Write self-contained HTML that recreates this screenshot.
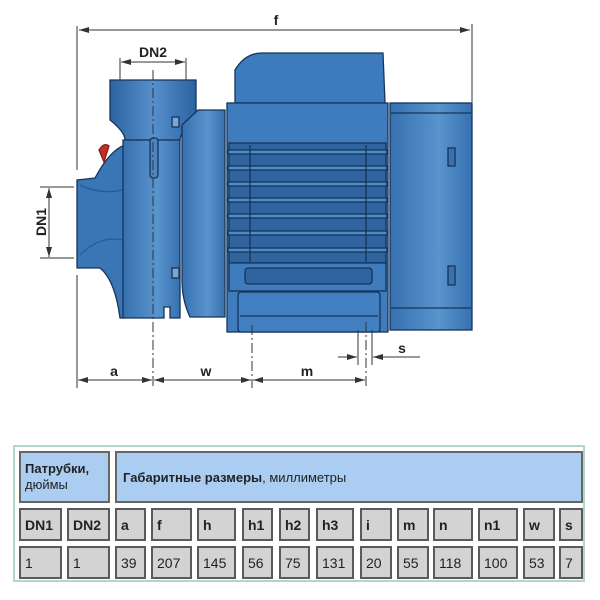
<!DOCTYPE html>
<html><head><meta charset="utf-8"><style>
body{margin:0;width:600px;height:600px;background:#fff;overflow:hidden;font-family:"Liberation Sans",Arial,sans-serif;position:relative}
svg{position:absolute;left:0;top:0}
.tbl{position:absolute;left:13px;top:445px;width:572px;height:137px;border:2px solid #b3d6cc;box-sizing:border-box;background:#fff}
.c{position:absolute;box-sizing:border-box;border:2px solid #5a5a5a;background:#d3d3d3;font-size:14px;color:#222;display:flex;align-items:center;padding-left:4px}
.h{background:#abcdf1;border-color:#666;font-size:13px}
b{font-weight:bold}
</style></head><body>
<svg width="600" height="440" viewBox="0 0 600 440">
<defs>
<marker id="ar" markerWidth="10" markerHeight="6" refX="10" refY="3" orient="auto" markerUnits="userSpaceOnUse"><path d="M0,0 L10,3 L0,6 Z" fill="#333"/></marker>
<linearGradient id="g1" x1="0" x2="1"><stop offset="0" stop-color="#2c63a2"/><stop offset="0.5" stop-color="#5690cb"/><stop offset="1" stop-color="#2c63a2"/></linearGradient>
<linearGradient id="g2" x1="0" x2="1"><stop offset="0" stop-color="#3670b0"/><stop offset="0.6" stop-color="#5a94cd"/><stop offset="1" stop-color="#3670b0"/></linearGradient>
</defs>
<g stroke="#16345a" stroke-width="1.3">
<path d="M77,180 L95,178 Q110,150 125,145 L125,318 L120,318 Q115,280 100,268 L77,268 Z" fill="#3a75b5"/>
<path d="M80,185 Q100,195 123,190 M80,255 Q100,235 123,240" fill="none" stroke="#2a5a90"/>
<path d="M110,80 L196,80 L196,120 Q180,132 180,140 L125,140 Q125,132 110,120 Z" fill="url(#g1)"/>
<path d="M123,140 L180,140 L180,318 L170,318 L170,307 L164,307 L164,318 L123,318 Z" fill="url(#g2)"/>
<rect x="150" y="138" width="8" height="40" rx="3" fill="#4a86c4"/>
<path d="M99,150 Q104,142 109,146 L104,162 Z" fill="#c0302a" stroke="#8a1d1a"/>
<path d="M182,125 L198,110 L225,110 L225,317 L190,317 Q182,300 182,280 Z" fill="url(#g2)"/>
<rect x="172" y="117" width="7" height="10" fill="#7aa6d4"/>
<rect x="172" y="268" width="7" height="10" fill="#7aa6d4"/>
<path d="M235,70 Q245,53 262,53 L383,53 L385,103 L235,103 Z" fill="#3e7bbd"/>
<rect x="227" y="103" width="161" height="229" fill="#3f7cbe"/>
<rect x="229" y="143" width="157" height="120" fill="#2f649e"/>
<g fill="#4d8ac8">
<rect x="228" y="150" width="159" height="4"/><rect x="228" y="166" width="159" height="4"/><rect x="228" y="182" width="159" height="4"/><rect x="228" y="198" width="159" height="4"/><rect x="228" y="214" width="159" height="4"/><rect x="228" y="231" width="159" height="4"/><rect x="228" y="248" width="159" height="4"/>
</g>
<line x1="250" y1="145" x2="250" y2="262"/><line x1="366" y1="145" x2="366" y2="262"/>
<rect x="229" y="263" width="157" height="28" fill="#3f7cbe"/>
<rect x="245" y="268" width="127" height="16" rx="3" fill="#2f649e"/>
<rect x="238" y="292" width="142" height="40" rx="3" fill="#4280c2"/>
<line x1="240" y1="316" x2="378" y2="316"/>
<rect x="390" y="103" width="82" height="227" fill="url(#g2)"/>
<line x1="391" y1="113" x2="471" y2="113"/><line x1="391" y1="308" x2="471" y2="308"/>
<rect x="448" y="148" width="7" height="18" fill="#3a72b0"/>
<rect x="448" y="266" width="7" height="19" fill="#3a72b0"/>
</g>
<g stroke="#333" stroke-width="1" fill="none">
<line x1="77" y1="26" x2="77" y2="170"/><line x1="77" y1="275" x2="77" y2="388"/>
<line x1="472" y1="24" x2="472" y2="102"/>
<line x1="79" y1="30" x2="470" y2="30" marker-end="url(#ar)"/><line x1="470" y1="30" x2="79" y2="30" marker-end="url(#ar)"/>
<line x1="120" y1="58" x2="120" y2="80"/><line x1="186" y1="58" x2="186" y2="80"/>
<line x1="121" y1="62" x2="185" y2="62" marker-end="url(#ar)"/><line x1="185" y1="62" x2="121" y2="62" marker-end="url(#ar)"/>
<line x1="40" y1="187" x2="74" y2="187"/><line x1="40" y1="258" x2="74" y2="258"/>
<line x1="49" y1="188" x2="49" y2="257" marker-end="url(#ar)"/><line x1="49" y1="257" x2="49" y2="188" marker-end="url(#ar)"/>
<line x1="153" y1="70" x2="153" y2="388" stroke-dasharray="10,3,2,3"/>
<line x1="252" y1="325" x2="252" y2="388" stroke-dasharray="10,3,2,3"/>
<line x1="366" y1="322" x2="366" y2="388" stroke-dasharray="10,3,2,3"/>
<line x1="358" y1="330" x2="358" y2="365"/><line x1="372" y1="330" x2="372" y2="365"/>
<line x1="338" y1="357" x2="357" y2="357" marker-end="url(#ar)"/><line x1="420" y1="357" x2="373" y2="357" marker-end="url(#ar)"/>
<line x1="78" y1="380" x2="152" y2="380" marker-end="url(#ar)"/><line x1="152" y1="380" x2="78" y2="380" marker-end="url(#ar)"/>
<line x1="154" y1="380" x2="251" y2="380" marker-end="url(#ar)"/><line x1="251" y1="380" x2="154" y2="380" marker-end="url(#ar)"/>
<line x1="253" y1="380" x2="365" y2="380" marker-end="url(#ar)"/><line x1="365" y1="380" x2="253" y2="380" marker-end="url(#ar)"/>
</g>
<g font-family="Liberation Sans,Arial,sans-serif" font-weight="bold" font-size="14" fill="#222" text-anchor="middle">
<text x="276" y="25">f</text>
<text x="153" y="57">DN2</text>
<text transform="translate(46,222) rotate(-90)">DN1</text>
<text x="114" y="376">a</text>
<text x="206" y="376">w</text>
<text x="307" y="376">m</text>
<text x="402" y="353">s</text>
</g>
</svg>
<div class="c h" style="left:19px;top:451px;width:91px;height:52px;line-height:1.25;display:block;padding-top:8px"><b>Патрубки,</b><br>дюймы</div>
<div class="c h" style="left:115px;top:451px;width:468px;height:52px;padding-left:6px"><b>Габаритные размеры</b>, миллиметры</div>
<div class="c" style="left:19px;top:508px;width:43px;height:33px"><b>DN1</b></div>
<div class="c" style="left:67px;top:508px;width:43px;height:33px"><b>DN2</b></div>
<div class="c" style="left:115px;top:508px;width:31px;height:33px"><b>a</b></div>
<div class="c" style="left:151px;top:508px;width:41px;height:33px"><b>f</b></div>
<div class="c" style="left:197px;top:508px;width:39px;height:33px"><b>h</b></div>
<div class="c" style="left:242px;top:508px;width:31px;height:33px"><b>h1</b></div>
<div class="c" style="left:279px;top:508px;width:31px;height:33px"><b>h2</b></div>
<div class="c" style="left:316px;top:508px;width:38px;height:33px"><b>h3</b></div>
<div class="c" style="left:360px;top:508px;width:32px;height:33px"><b>i</b></div>
<div class="c" style="left:397px;top:508px;width:32px;height:33px"><b>m</b></div>
<div class="c" style="left:433px;top:508px;width:40px;height:33px"><b>n</b></div>
<div class="c" style="left:478px;top:508px;width:40px;height:33px"><b>n1</b></div>
<div class="c" style="left:523px;top:508px;width:32px;height:33px"><b>w</b></div>
<div class="c" style="left:559px;top:508px;width:24px;height:33px"><b>s</b></div>
<div class="c" style="left:19px;top:546px;width:43px;height:33px">1</div>
<div class="c" style="left:67px;top:546px;width:43px;height:33px">1</div>
<div class="c" style="left:115px;top:546px;width:31px;height:33px">39</div>
<div class="c" style="left:151px;top:546px;width:41px;height:33px">207</div>
<div class="c" style="left:197px;top:546px;width:39px;height:33px">145</div>
<div class="c" style="left:242px;top:546px;width:31px;height:33px">56</div>
<div class="c" style="left:279px;top:546px;width:31px;height:33px">75</div>
<div class="c" style="left:316px;top:546px;width:38px;height:33px">131</div>
<div class="c" style="left:360px;top:546px;width:32px;height:33px">20</div>
<div class="c" style="left:397px;top:546px;width:32px;height:33px">55</div>
<div class="c" style="left:433px;top:546px;width:40px;height:33px">118</div>
<div class="c" style="left:478px;top:546px;width:40px;height:33px">100</div>
<div class="c" style="left:523px;top:546px;width:32px;height:33px">53</div>
<div class="c" style="left:559px;top:546px;width:24px;height:33px">7</div>
<div class="tbl" style="background:transparent;z-index:-1"></div>
</body></html>
